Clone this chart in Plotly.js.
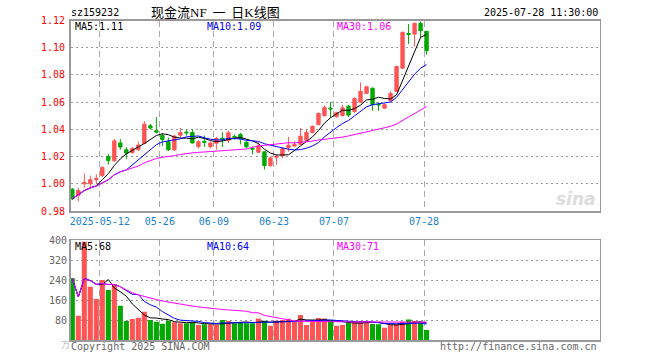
<!DOCTYPE html>
<html>
<head>
<meta charset="utf-8">
<script src="https://cdn.plot.ly/plotly-3.0.1.min.js"></script>
<style>
html,body{margin:0;padding:0;background:#fff;}
#chart{width:660px;height:360px;}
</style>
</head>
<body>
<div id="chart"></div>
<script>
// ---- data ----
const dates = [
 '2025-04-30',
 '2025-05-06','2025-05-07','2025-05-08','2025-05-09','2025-05-12','2025-05-13','2025-05-14','2025-05-15','2025-05-16',
 '2025-05-19','2025-05-20','2025-05-21','2025-05-22','2025-05-23','2025-05-26','2025-05-27','2025-05-28','2025-05-29','2025-05-30',
 '2025-06-03','2025-06-04','2025-06-05','2025-06-06','2025-06-09','2025-06-10','2025-06-11','2025-06-12','2025-06-13',
 '2025-06-16','2025-06-17','2025-06-18','2025-06-19','2025-06-20','2025-06-23','2025-06-24','2025-06-25','2025-06-26','2025-06-27','2025-06-30',
 '2025-07-01','2025-07-02','2025-07-03','2025-07-04','2025-07-07','2025-07-08','2025-07-09','2025-07-10','2025-07-11',
 '2025-07-14','2025-07-15','2025-07-16','2025-07-17','2025-07-18','2025-07-21','2025-07-22','2025-07-23','2025-07-24','2025-07-25','2025-07-28'
];
const openP = [0.996,0.9916,1.000,1.000,1.003,1.006,1.020,1.017,1.030,1.025,
 1.023,1.025,1.0296,1.0426,1.039,1.0355,1.031,1.025,1.0357,1.038,
 1.0377,1.0274,1.0312,1.0272,1.0298,1.0335,1.032,1.0348,1.0362,1.0306,
 1.026,1.0232,1.0235,1.0134,1.0195,1.0205,1.0267,1.0278,1.029,1.032,
 1.0377,1.0435,1.050,1.0556,1.0493,1.0502,1.057,1.0532,1.060,1.0664,
 1.0703,1.0584,1.0556,1.061,1.0679,1.085,1.1105,1.110,1.1179,1.112];
const highP = [0.997,0.997,1.0076,1.006,1.007,1.013,1.022,1.033,1.033,1.027,
 1.027,1.031,1.046,1.044,1.049,1.0373,1.034,1.036,1.041,1.0395,
 1.040,1.032,1.0355,1.031,1.0345,1.038,1.039,1.0363,1.0375,1.031,
 1.0275,1.0305,1.024,1.020,1.0215,1.027,1.0345,1.0313,1.041,1.040,
 1.0429,1.0525,1.0575,1.060,1.053,1.058,1.058,1.0635,1.0745,1.072,
 1.0705,1.0598,1.059,1.0679,1.0868,1.1118,1.1174,1.1185,1.1193,1.1125];
const lowP = [0.988,0.987,0.997,0.997,1.000,1.005,1.014,1.016,1.025,1.018,
 1.022,1.024,1.029,1.040,1.037,1.0277,1.024,1.024,1.034,1.0353,
 1.0295,1.026,1.027,1.026,1.025,1.027,1.030,1.0325,1.029,1.026,
 1.0215,1.0225,1.0105,1.0125,1.014,1.019,1.0235,1.0275,1.0285,1.0315,
 1.037,1.043,1.0495,1.0487,1.0485,1.0495,1.049,1.052,1.0598,1.066,
 1.0537,1.0537,1.055,1.0598,1.0675,1.0845,1.1027,1.1007,1.1076,1.0949];
const closeP = [0.989,0.995,1.001,1.003,1.004,1.012,1.017,1.0315,1.027,1.0225,
 1.026,1.0285,1.0438,1.041,1.038,1.0325,1.025,1.035,1.0377,1.0375,
 1.030,1.0309,1.0305,1.030,1.0333,1.0325,1.0375,1.0342,1.0331,1.0272,
 1.0255,1.0277,1.0134,1.019,1.0202,1.0257,1.0283,1.029,1.035,1.0378,
 1.0422,1.0517,1.056,1.055,1.0522,1.0558,1.0505,1.0627,1.068,1.0713,
 1.0581,1.058,1.0581,1.0664,1.0862,1.1113,1.1098,1.1179,1.1125,1.0978];
const volume = [247,97,393,213,164,240,200,224,137,76,
 84,89,113,80,73,65,77,71,67,67,
 71,60,63,63,60,80,76,67,71,67,
 67,86,77,57,77,80,85,76,100,60,
 74,88,86,76,57,60,71,74,76,71,
 64,63,49,60,63,73,82,76,71,40];
const priceTicks = [0.98,1.00,1.02,1.04,1.06,1.08,1.10,1.12];
const volTicks = [80,160,240,320,400];
const tickDates = ['2025-05-12','2025-05-26','2025-06-09','2025-06-23','2025-07-07','2025-07-28'];
const tickText = ['2025-05-12','05-26','06-09','06-23','07-07','07-28'];

// ---- helpers ----
function ma(arr, n){
  return arr.map((_, i) => {
    const s = Math.max(0, i - n + 1);
    let sum = 0;
    for (let j = s; j <= i; j++) sum += arr[j];
    return sum / (i - s + 1);
  });
}
const idx = dates.map((_, i) => i);
const ma5 = ma(closeP, 5), ma10 = ma(closeP, 10), ma30 = ma(closeP, 30);
const vma5 = ma(volume, 5), vma10 = ma(volume, 10), vma30 = ma(volume, 30);
const last = a => a[a.length - 1];
const RED = '#ff5555', GREEN = '#00a800';
const volColors = closeP.map((c, i) => c >= openP[i] ? RED : GREEN);
const tickPos = tickDates.map(d => dates.indexOf(d) - 0.42);

const W = 660, H = 360;
const px = v => v / W, py = v => 1 - v / H;
const MONO = 'DejaVu Sans Mono';
const FS = 10;

const traces = [
  {type:'candlestick', x: idx, open: openP, high: highP, low: lowP, close: closeP,
   xaxis:'x', yaxis:'y', whiskerwidth:0,
   increasing:{line:{color:RED, width:1}, fillcolor:RED},
   decreasing:{line:{color:GREEN, width:1}, fillcolor:GREEN},
   hoverinfo:'skip', showlegend:false},
  {type:'scatter', mode:'lines', x: idx, y: ma5, xaxis:'x', yaxis:'y', line:{color:'#000', width:1}, hoverinfo:'skip', showlegend:false},
  {type:'scatter', mode:'lines', x: idx, y: ma10, xaxis:'x', yaxis:'y', line:{color:'#0000ff', width:1}, hoverinfo:'skip', showlegend:false},
  {type:'scatter', mode:'lines', x: idx, y: ma30, xaxis:'x', yaxis:'y', line:{color:'#ff00ff', width:1}, hoverinfo:'skip', showlegend:false},
  {type:'bar', x: idx, y: volume, xaxis:'x2', yaxis:'y2', marker:{color: volColors, line:{width:0}}, hoverinfo:'skip', showlegend:false},
  {type:'scatter', mode:'lines', x: idx, y: vma5, xaxis:'x2', yaxis:'y2', line:{color:'#000', width:1}, hoverinfo:'skip', showlegend:false},
  {type:'scatter', mode:'lines', x: idx, y: vma10, xaxis:'x2', yaxis:'y2', line:{color:'#0000ff', width:1}, hoverinfo:'skip', showlegend:false},
  {type:'scatter', mode:'lines', x: idx, y: vma30, xaxis:'x2', yaxis:'y2', line:{color:'#ff00ff', width:1}, hoverinfo:'skip', showlegend:false}
];

const xDomain = [px(70.5), px(599.5)];
const xRange = [-0.3, 87.8];
const baseX = {
  domain: xDomain, range: xRange, showline:true, mirror:true, linecolor:'#999', linewidth:1.5,
  tickmode:'array', tickvals: tickPos, ticks:'', showgrid:true, gridcolor:'#aaa', gridwidth:1,
  griddash:'6px,4px', zeroline:false, fixedrange:true
};

const annotations = [];
function txt(x, y, t, opt){
  annotations.push(Object.assign({xref:'paper', yref:'paper', x:px(x), y:py(y), text:t, showarrow:false,
    xanchor:'left', yanchor:'middle', font:{family:MONO, size:FS, color:'#000'}}, opt||{}));
}
// header
txt(69, 13, 'sz159232');
txt(149, 12, '现金流<span style="font-family:Liberation Serif">NF</span>&nbsp;&nbsp;一&nbsp;&nbsp;日<span style="font-family:Liberation Serif">K</span>线图',
  {font:{family:'Noto Sans CJK SC', size:13, color:'#000'}});
txt(600, 13, '2025-07-28 11:30:00', {xanchor:'right'});
// MA legends
txt(73, 27, 'MA5:' + last(ma5).toFixed(2));
txt(205, 27, 'MA10:' + last(ma10).toFixed(2), {font:{family:MONO, size:FS, color:'#0000ff'}});
txt(335, 27, 'MA30:' + last(ma30).toFixed(2), {font:{family:MONO, size:FS, color:'#ff00ff'}});
txt(73, 246, 'MA5:' + Math.round(last(vma5)));
txt(205, 246, 'MA10:' + Math.round(last(vma10)), {font:{family:MONO, size:FS, color:'#0000ff'}});
txt(335, 246, 'MA30:' + Math.round(last(vma30)), {font:{family:MONO, size:FS, color:'#ff00ff'}});
// footer
txt(69, 346, 'Copyright 2025 SINA.COM', {font:{family:MONO, size:FS, color:'#666'}});
txt(599, 346, 'http://finance.sina.com.cn', {xanchor:'right', font:{family:MONO, size:FS, color:'#666'}});
txt(59, 344, '万', {font:{family:'Noto Sans CJK SC', size:9, color:'#bbb'}});
// watermark
txt(598, 199, 'sina', {xanchor:'right', font:{family:'DejaVu Sans', size:17, color:'#dcdcdc', weight:'bold', style:'italic'}});
// price tick labels
priceTicks.forEach(v => {
  annotations.push({xref:'paper', yref:'y', x:px(67), y:v, text:v.toFixed(2), showarrow:false,
    xanchor:'right', yanchor:'middle', font:{family:MONO, size:FS, color:'#ff0000'}});
});

const layout = {
  width: W, height: H, margin:{l:0, r:0, t:0, b:0}, paper_bgcolor:'#fff', plot_bgcolor:'#fff',
  showlegend:false, bargap:0.15, boxgap:0.2,
  xaxis: Object.assign({}, baseX, {anchor:'y', ticktext: tickText, showticklabels:true,
    tickfont:{family:MONO, size:FS, color:'#1a7fd0'}, rangeslider:{visible:false}}),
  xaxis2: Object.assign({}, baseX, {anchor:'y2', ticktext: tickText, showticklabels:false}),
  yaxis: {domain:[py(211), py(20.5)], range:[0.98, 1.12], tickmode:'array', tickvals: priceTicks,
    showticklabels:false, ticks:'', showgrid:true, gridcolor:'#999', griddash:'2px,3px', gridwidth:1,
    showline:true, mirror:true, linecolor:'#999', linewidth:1.5, zeroline:false, fixedrange:true},
  yaxis2: {domain:[py(340), py(240)], range:[0, 400], tickmode:'array', tickvals: volTicks,
    ticktext: volTicks.map(String), tickfont:{family:MONO, size:FS, color:'#666'}, ticks:'',
    showgrid:true, gridcolor:'#999', griddash:'2px,3px', gridwidth:1,
    showline:true, mirror:true, linecolor:'#999', linewidth:1.5, zeroline:false, fixedrange:true},
  annotations: annotations
};

Plotly.newPlot('chart', traces, layout, {staticPlot:true, displayModeBar:false});
</script>
</body>
</html>
